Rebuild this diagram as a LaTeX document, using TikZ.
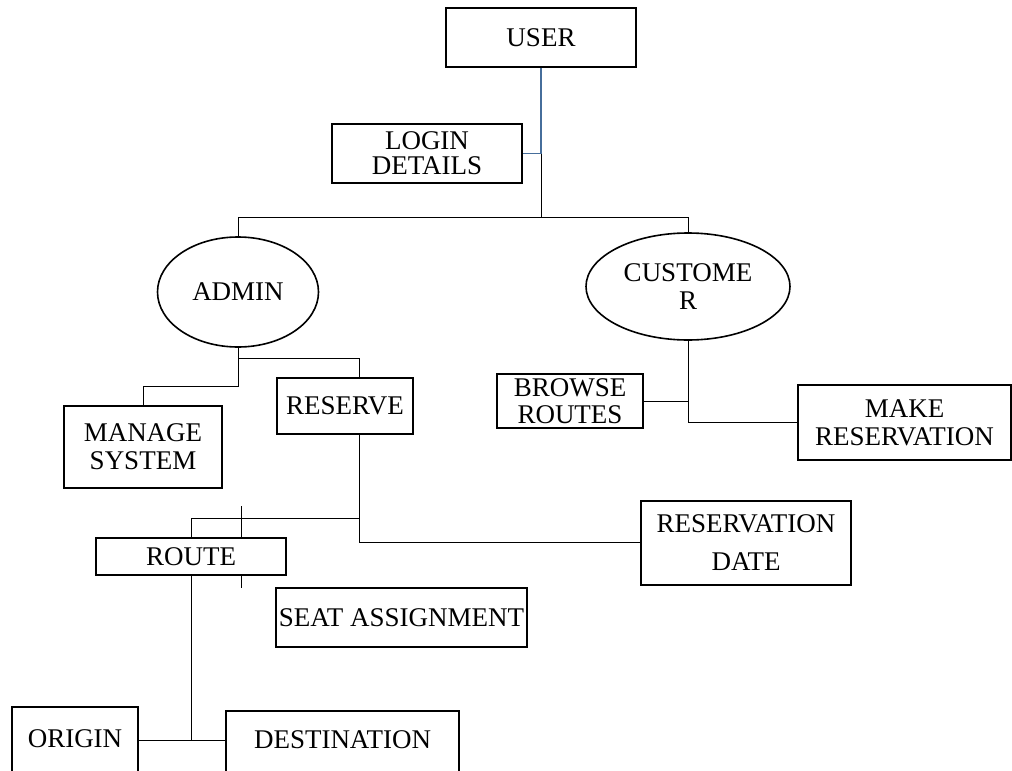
\documentclass[tikz,border=0pt]{standalone}
\usepackage{fontspec}
\setmainfont{Liberation Serif}
\usetikzlibrary{shapes.geometric,calc}
\definecolor{linkblue}{RGB}{70,110,155}
\tikzset{
  box/.style={draw, line width=1.6pt, fill=white, inner sep=0pt, align=center,
    font=\fontsize{27}{28}\selectfont},
  oval/.style={ellipse, draw, line width=1.6pt, fill=white, inner sep=0pt, align=center,
    font=\fontsize{27}{28}\selectfont},
  conn/.style={line width=0.9pt, draw=black},
  bconn/.style={line width=1.1pt, draw=linkblue},
}
\begin{document}
\begin{tikzpicture}[x=1pt,y=-1pt]
\useasboundingbox (0,0) rectangle (1012,771);
\clip (0,0) rectangle (1012,771);

% junction coordinates
\coordinate (j1) at (541,153.5);
\coordinate (j2) at (541,217);
\coordinate (a1) at (238,386);
\coordinate (a2) at (238,358);
\coordinate (r1) at (359,358);
\coordinate (r2) at (359,518);
\coordinate (r3) at (359,542);
\coordinate (s1) at (241,506);
\coordinate (s2) at (241,588);
\coordinate (c1) at (688,401);
\coordinate (c2) at (688,422);
\coordinate (k) at (191,740);

% stray line behind ROUTE
\draw[conn] (s1) -- (s2);

% nodes
\node[box, minimum width=190pt, minimum height=59pt] (user) at (541,37.5) {USER};
\node[box, minimum width=190pt, minimum height=59pt, font=\fontsize{27}{25}\selectfont] (login) at (427,153.5) {LOGIN\\DETAILS};
\node[oval, minimum width=161pt, minimum height=110pt] (admin) at (238,292) {ADMIN};
\node[oval, minimum width=204pt, minimum height=107pt] (customer) at (688,286.5) {CUSTOME\\R};
\node[box, minimum width=158pt, minimum height=82pt] (manage) at (143,447) {MANAGE\\SYSTEM};
\node[box, minimum width=136pt, minimum height=56pt] (reserve) at (345,406) {RESERVE};
\node[box, minimum width=146pt, minimum height=54pt, font=\fontsize{27}{27}\selectfont] (browse) at (570,401) {BROWSE\\ROUTES};
\node[box, minimum width=213pt, minimum height=75pt] (make) at (904.5,422.5) {MAKE\\RESERVATION};
\node[box, minimum width=210pt, minimum height=84pt, font=\fontsize{27}{38}\selectfont] (resdate) at (746,543) {RESERVATION\\DATE};
\node[box, minimum width=190pt, minimum height=37pt] (route) at (191,556.5) {ROUTE};
\node[box, minimum width=251pt, minimum height=59pt] (seat) at (401.5,617.5) {SEAT ASSIGNMENT};
\node[box, minimum width=126pt, text height=40pt, text depth=40pt, anchor=base] (origin) at (75,747) {ORIGIN};
\node[box, minimum width=233pt, text height=37pt, text depth=40pt, anchor=base] (destination) at (342.5,748) {DESTINATION};

% connectors
\draw[bconn] (user.south) -- (j1);
\draw[bconn] (login.east) -- (j1);
\draw[conn] (j1) -- (j2);
\draw[conn] (j2) -| (admin.north);
\draw[conn] (j2) -| (customer.north);

\draw[conn] (admin.south) -- (a1) -| (manage.north);
\draw[conn] (a2) -- (r1) -- (r1 |- reserve.north);

\draw[conn] (r1 |- reserve.south) -- (r3) -- (resdate.west |- r3);
\draw[conn] (r2) -| (route.north);

\draw[conn] (customer.south) -- (c2) -- (make.west |- c2);
\draw[conn] (browse.east) -- (c1);

\draw[conn] (route.south) -- (k);
\draw[conn] (origin.east |- k) -- (destination.west |- k);
\end{tikzpicture}
\end{document}
